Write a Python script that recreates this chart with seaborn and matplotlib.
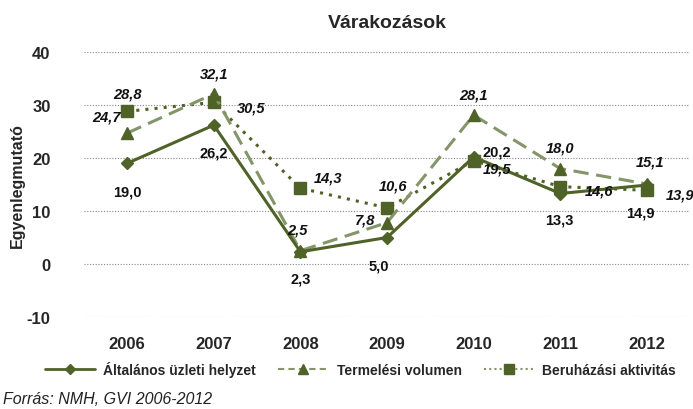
import matplotlib
matplotlib.use('Agg')
import matplotlib.pyplot as plt
import seaborn as sns
import pandas as pd
from matplotlib.lines import Line2D

years = [2006, 2007, 2008, 2009, 2010, 2011, 2012]
uzleti = [19.0, 26.2, 2.3, 5.0, 20.2, 13.3, 14.9]
termeles = [24.7, 32.1, 2.5, 7.8, 28.1, 18.0, 15.1]
beruhazas = [28.8, 30.5, 14.3, 10.6, 19.5, 14.6, 13.9]

names = ['Általános üzleti helyzet', 'Termelési volumen', 'Beruházási aktivitás']

dark = '#4f6228'
light = '#849569'

sns.set_theme(style='white')
plt.rcParams['font.family'] = ['Liberation Sans', 'DejaVu Sans']

df = pd.DataFrame({'year': years, names[0]: uzleti, names[1]: termeles, names[2]: beruhazas})

fig = plt.figure(figsize=(6.93, 4.10), dpi=100)
ax = fig.add_axes([0.121, 0.2244, 0.875, 0.6463])

styles = {
    names[0]: dict(color=dark, linestyle='-', marker='D', markersize=6, linewidth=2.2),
    names[1]: dict(color=light, linestyle=(0, (5, 2.5)), marker='^', markersize=8, linewidth=2.2),
    names[2]: dict(color=dark, linestyle=(0, (1, 2)), marker='s', markersize=8, linewidth=2.2),
}

for n in [names[2], names[1], names[0]]:
    st = styles[n]
    sns.lineplot(data=df, x='year', y=n, ax=ax, color=st['color'], linestyle=st['linestyle'],
                 linewidth=st['linewidth'], legend=False)
    ax.plot(df['year'], df[n], linestyle='none', marker=st['marker'], markersize=st['markersize'],
            color=dark, markeredgecolor=dark)

ax.set_xlim(2005.5, 2012.5)
ax.set_ylim(-10, 40)
ax.set_yticks([-10, 0, 10, 20, 30, 40])
ax.set_xticks(years)
ax.set_xticklabels([str(y) for y in years], fontsize=12, fontweight='bold')
ax.set_yticklabels(['-10', '0', '10', '20', '30', '40'], fontsize=12, fontweight='bold')
ax.tick_params(axis='x', pad=14, length=0)
ax.tick_params(axis='y', pad=24, length=0)
ax.grid(axis='y', linestyle=(0, (1, 1.5)), color='#888888', linewidth=0.8)
ax.grid(axis='x', visible=False)
for s in ax.spines.values():
    s.set_visible(False)
ax.set_xlabel('')
ax.set_ylabel('Egyenlegmutató', fontsize=11.5, fontweight='bold', labelpad=1)

def fmt(v):
    return ('%.1f' % v).replace('.', ',')

# label offsets in points (dx, dy)
off1 = [(0, -20), (0, -20), (0, -19), (-6, -20), (17, 4), (-1, -19), (-5, -20)]
off2 = [(-15, 12), (0, 15), (-2, 15), (-16, 2), (0, 15), (0, 15), (2, 16)]
off3 = [(0, 13), (27, -4), (20, 8), (4, 16), (17, -6), (28, -3), (24, -3)]

for vals, offs, style in [(uzleti, off1, 'normal'), (termeles, off2, 'italic'), (beruhazas, off3, 'italic')]:
    for x, v, (dx, dy) in zip(years, vals, offs):
        ax.annotate(fmt(v), (x, v), xytext=(dx, dy), textcoords='offset points',
                    ha='center', va='center', fontsize=10.5, fontweight='bold', fontstyle=style,
                    color='#111111')

ax.set_title('Várakozások', fontsize=14, fontweight='bold', pad=18)

handles = [
    Line2D([], [], color=dark, linestyle='-', linewidth=2, marker='D', markersize=5),
    Line2D([], [], color=light, linestyle=(0, (3, 2)), linewidth=1.5, marker='^', markersize=7,
           markerfacecolor=dark, markeredgecolor=dark),
    Line2D([], [], color=light, linestyle=(0, (1, 1.5)), linewidth=1.5, marker='s', markersize=7,
           markerfacecolor=dark, markeredgecolor=dark),
]
fig.legend(handles, names, loc='center', bbox_to_anchor=(0.52, 0.098), ncol=3, frameon=False,
           prop={'size': 10, 'weight': 'bold'}, handlelength=3.6, columnspacing=1.6, handletextpad=0.6)

fig.text(0.005, 0.015, 'Forrás: NMH, GVI 2006-2012', fontsize=11.5, fontstyle='italic', color='#222222')

fig.savefig('out.png', dpi=100)
